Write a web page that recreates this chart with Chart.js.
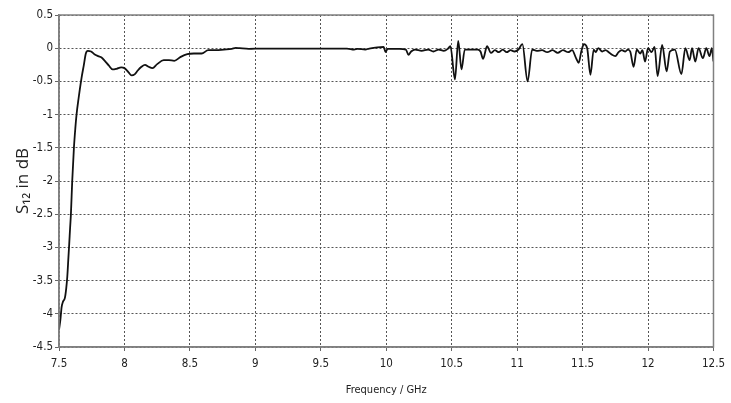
<!DOCTYPE html>
<html>
<head>
<meta charset="utf-8">
<title>S12 vs Frequency</title>
<script src="https://cdn.jsdelivr.net/npm/chart.js@4"></script>
<style>
  html, body { margin: 0; padding: 0; background: #fff; }
  #wrap { width: 731px; height: 403px; }
</style>
</head>
<body>
<div id="wrap"><canvas id="s12Chart" width="731" height="403"></canvas></div>
<script>
const freqGHz = [
  7.50, 7.51, 7.52, 7.53, 7.545, 7.555, 7.563, 7.572, 7.578, 7.585,
  7.591, 7.601, 7.614, 7.625, 7.634, 7.65, 7.672, 7.69, 7.705, 7.72,
  7.745, 7.77, 7.80, 7.825, 7.85, 7.88, 7.91, 7.94, 7.975, 8.00,
  8.03, 8.055, 8.08, 8.10, 8.13, 8.157, 8.185, 8.214, 8.25, 8.30,
  8.34, 8.38, 8.43, 8.48, 8.53, 8.59, 8.64, 8.70, 8.76, 8.82,
  8.85, 8.88, 8.95, 9.05, 9.20, 9.50, 9.70, 9.755, 9.78, 9.84,
  9.87, 9.98, 9.995, 10.01, 10.10, 10.15, 10.17, 10.19, 10.22, 10.27,
  10.32, 10.36, 10.40, 10.44, 10.47, 10.49, 10.525, 10.55, 10.575, 10.60,
  10.65, 10.70, 10.72, 10.74, 10.77, 10.80, 10.83, 10.86, 10.89, 10.92,
  10.95, 10.98, 11.01, 11.04, 11.08, 11.115, 11.15, 11.19, 11.23, 11.27,
  11.31, 11.35, 11.39, 11.42, 11.45, 11.47, 11.49, 11.51, 11.535, 11.56,
  11.585, 11.60, 11.62, 11.65, 11.675, 11.70, 11.725, 11.75, 11.775, 11.80,
  11.826, 11.846, 11.864, 11.89, 11.914, 11.94, 11.957, 11.977, 12.00, 12.027,
  12.05, 12.073, 12.108, 12.142, 12.167, 12.205, 12.255, 12.285, 12.318, 12.336,
  12.361, 12.386, 12.419, 12.445, 12.47, 12.487, 12.50
];
const s12dB = [
  -4.24, -4.10, -3.90, -3.82, -3.76, -3.62, -3.45, -3.15, -2.95, -2.70,
  -2.50, -2.00, -1.50, -1.20, -1.00, -0.75, -0.45, -0.25, -0.08, -0.04,
  -0.05, -0.09, -0.12, -0.14, -0.19, -0.26, -0.32, -0.31, -0.29, -0.30,
  -0.36, -0.41, -0.39, -0.34, -0.28, -0.25, -0.28, -0.30, -0.24, -0.18,
  -0.18, -0.19, -0.13, -0.09, -0.08, -0.08, -0.03, -0.03, -0.02, -0.01,
  0.005, 0.0, -0.01, -0.005, -0.005, -0.005, -0.005, -0.02, -0.01, -0.02,
  -0.005, 0.02, -0.06, -0.01, -0.01, -0.02, -0.10, -0.05, -0.02, -0.04,
  -0.02, -0.05, -0.02, -0.04, -0.01, 0.03, -0.47, 0.11, -0.32, -0.02,
  -0.02, -0.02, -0.05, -0.16, 0.03, -0.07, -0.03, -0.06, -0.02, -0.06,
  -0.03, -0.05, -0.02, 0.06, -0.50, -0.02, -0.04, -0.03, -0.06, -0.03,
  -0.07, -0.03, -0.06, -0.03, -0.15, -0.22, -0.05, 0.06, 0.0, -0.40,
  -0.02, -0.06, 0.0, -0.05, -0.03, -0.06, -0.10, -0.12, -0.06, -0.03,
  -0.05, -0.02, -0.05, -0.28, -0.02, -0.08, -0.03, -0.20, 0.0, -0.06,
  0.02, -0.42, 0.05, -0.35, -0.05, -0.02, -0.39, 0.0, -0.18, 0.0,
  -0.20, 0.0, -0.15, 0.0, -0.12, 0.0, -0.20
];
const xTicks = [7.5, 8, 8.5, 9, 9.5, 10, 10.5, 11, 11.5, 12, 12.5];
const yTicks = [0.5, 0, -0.5, -1, -1.5, -2, -2.5, -3, -3.5, -4, -4.5];

const tickFont = { family: "'DejaVu Sans Condensed', 'Liberation Sans Narrow', 'DejaVu Sans', sans-serif", size: 11.5 };

// solid frame round the plot area (top and right sides too)
const framePlugin = {
  id: 'frame',
  afterDraw(chart) {
    const a = chart.chartArea, ctx = chart.ctx;
    ctx.save();
    ctx.strokeStyle = '#808080';
    ctx.lineWidth = 1.5;
    ctx.setLineDash([]);
    ctx.strokeRect(a.left, a.top, a.right - a.left, a.bottom - a.top);
    ctx.restore();
  }
};

new Chart(document.getElementById('s12Chart'), {
  type: 'line',
  data: {
    datasets: [{
      data: freqGHz.map((f, i) => ({ x: f, y: s12dB[i] })),
      borderColor: '#111',
      borderWidth: 1.8,
      pointRadius: 0,
      cubicInterpolationMode: 'monotone',
      fill: false
    }]
  },
  options: {
    responsive: false,
    animation: false,
    layout: { padding: { left: 0, top: 15, right: 12, bottom: 0 } },
    plugins: { legend: { display: false }, tooltip: { enabled: false } },
    scales: {
      x: {
        type: 'linear',
        min: 7.5,
        max: 12.5,
        afterBuildTicks: s => { s.ticks = xTicks.map(v => ({ value: v })); },
        afterFit: s => { s.height = 56; },
        ticks: { color: '#222', font: tickFont, padding: 6, maxRotation: 0, callback: v => String(v) },
        grid: { color: '#555', tickBorderDash: [], tickLength: 4, tickColor: '#666' },
        border: { display: true, color: '#808080', width: 1.5, dash: [2, 2] },
        title: {
          display: true,
          text: 'Frequency / GHz',
          color: '#222',
          font: { family: tickFont.family, size: 11 },
          padding: { top: 0, bottom: 6 }
        }
      },
      y: {
        type: 'linear',
        min: -4.5,
        max: 0.5,
        afterBuildTicks: s => { s.ticks = yTicks.map(v => ({ value: v })); },
        afterFit: s => { s.width = 59; },
        ticks: { color: '#222', font: tickFont, padding: 2, callback: v => String(v) },
        grid: { color: '#555', tickBorderDash: [], tickLength: 4, tickColor: '#666' },
        border: { display: true, color: '#808080', width: 1.5, dash: [2, 2] },
        title: {
          display: true,
          text: 'S₁₂ in dB',
          color: '#222',
          font: { family: "'Open Sans', 'Noto Sans', sans-serif", size: 17 },
          padding: { top: 13, bottom: 0 }
        }
      }
    }
  },
  plugins: [framePlugin]
});
</script>
</body>
</html>
